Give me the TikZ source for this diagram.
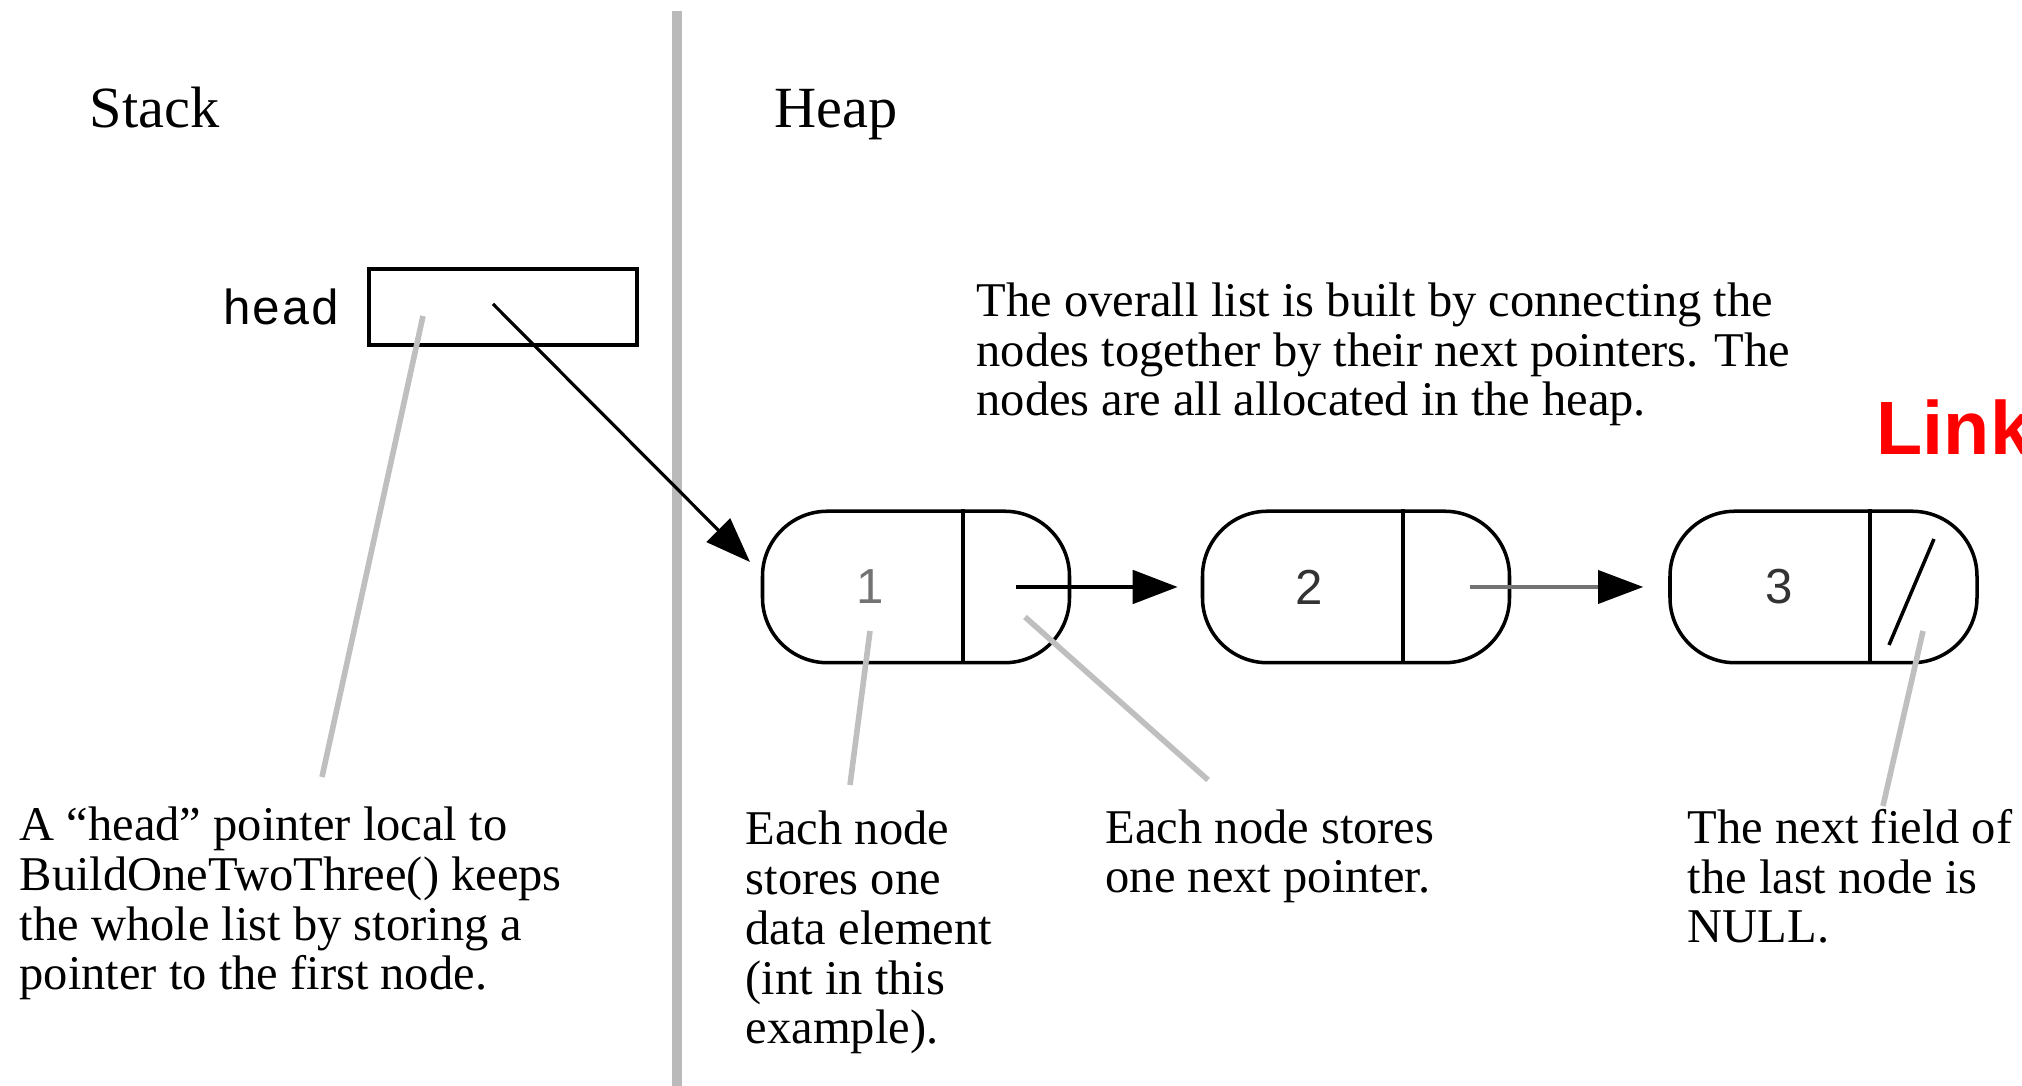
\documentclass[tikz,border=0pt]{standalone}
\usepackage{fontspec}
\setmainfont{Liberation Serif}
\setsansfont{Liberation Sans}
\setmonofont{Liberation Mono}
\usetikzlibrary{arrows.meta,positioning}

\begin{document}
\begin{tikzpicture}
[>={Triangle[length=4.5mm,width=3.3mm,color=black]},
listcell/.style={draw,line width=1pt,rounded corners=6.5mm,minimum width=3.07cm,minimum height=1.515cm,inner sep=0pt},
datum/.style={font=\sffamily\fontsize{14}{16}\selectfont,text=black!80,inner sep=0pt},
remark/.style={align=left,inner sep=0pt,anchor=base west,font=\fontsize{13.8}{14.2}\selectfont},
heading/.style={inner sep=0pt,anchor=base west,font=\fontsize{16.6}{20}\selectfont},
leader/.style={draw=black!25,line width=1.6pt},]
\useasboundingbox (0,0) rectangle (20.22,10.86);

%Stack and heap
\node[heading] (stack) at (0.89,9.58) {Stack};
\node[heading] (heap) at (7.74,9.58) {Heap};
\coordinate (wtop) at (6.77,10.75);
\coordinate (wbot) at (6.77,0);
\draw[black!27,line width=2.6pt] (wtop) -- (wbot);

%Head pointer
\node[draw,line width=1.1pt,minimum width=2.68cm,minimum height=0.76cm] (headbox) at (5.03,7.79) {};
\node[font=\ttfamily\fontsize{14}{16}\selectfont,inner sep=0pt,left=2.6mm of headbox] (headlbl) {head};

%List nodes
\node[listcell] (n1) at (9.16,4.99) {};
\node[listcell] (n2) at (13.56,4.99) {};
\node[listcell] (n3) at (18.235,4.99) {};
\draw[line width=1pt] ([xshift=2.02cm]n1.north west) -- ([xshift=2.02cm]n1.south west);
\draw[line width=1pt] ([xshift=2.02cm]n2.north west) -- ([xshift=2.02cm]n2.south west);
\draw[line width=1pt] ([xshift=2.02cm]n3.north west) -- ([xshift=2.02cm]n3.south west);
\node[datum,text=black!55] (d1) at ([xshift=1.09cm]n1.west) {1};
\node[datum] (d2) at ([xshift=1.08cm]n2.west) {2};
\node[datum] (d3) at ([xshift=1.11cm]n3.west) {3};

%Pointers
\coordinate (hp) at (4.93,7.82);
\coordinate (htip) at (7.50,5.24);
\draw[->,line width=0.9pt] (hp) -- (htip);
\coordinate (nx1) at (10.16,4.99);
\draw[->,line width=1.4pt] (nx1) -- ([xshift=-2.3mm]n2.west);
\coordinate (nx2) at (14.70,4.99);
\draw[->,line width=1pt,black!55] (nx2) -- ([xshift=-2.5mm]n3.west);
\coordinate (nul1) at (18.89,4.41);
\coordinate (nul2) at (19.34,5.47);
\draw[line width=1pt] (nul1) -- (nul2);

%Remarks (placed by the baseline of their last line)
\node[remark] (overall) at (9.76,6.70) {The overall list is built by connecting the\\nodes together by their next pointers. The\\nodes are all allocated in the heap.};
\node[remark] (headnote) at (0.19,0.96) {A “head” pointer local to\\BuildOneTwoThree() keeps\\the whole list by storing a\\pointer to the first node.};
\node[remark] (datanote) at (7.45,0.42) {Each node\\stores one\\data element\\(int in this\\example).};
\node[remark] (nextnote) at (11.05,1.93) {Each node stores\\one next pointer.};
\node[remark] (nullnote) at (16.87,1.43) {The next field of\\the last node is\\NULL.};
\node[inner sep=0pt,anchor=base west,text=red,font=\sffamily\bfseries\fontsize{21.5}{24}\selectfont] (link) at (18.76,6.31) {Link};

%Leader lines
\coordinate (la1) at (4.23,7.70);
\coordinate (lb1) at (3.22,3.09);
\coordinate (la2) at (8.70,4.55);
\coordinate (lb2) at (8.50,3.01);
\coordinate (la3) at (10.25,4.69);
\coordinate (lb3) at (12.08,3.06);
\coordinate (la4) at (19.23,4.55);
\coordinate (lb4) at (18.83,2.80);
\draw[leader] (la1) -- (lb1);
\draw[leader] (la2) -- (lb2);
\draw[leader] (la3) -- (lb3);
\draw[leader] (la4) -- (lb4);
\end{tikzpicture}
\end{document}
